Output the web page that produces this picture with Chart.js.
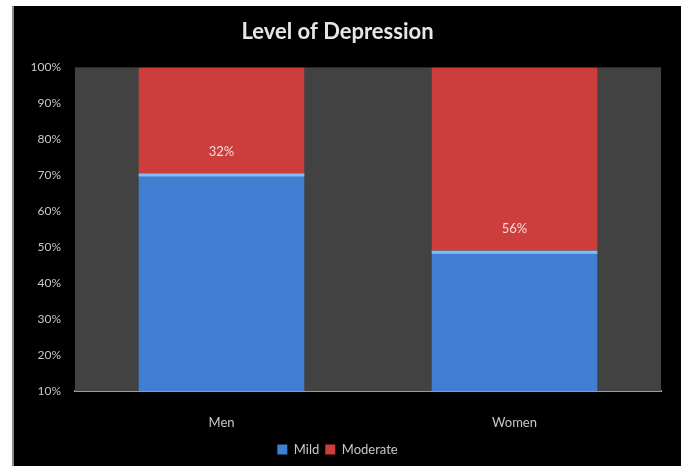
<!DOCTYPE html>
<html>
<head>
<meta charset="utf-8">
<script src="https://cdn.jsdelivr.net/npm/chart.js@4"></script>
<style>
  html, body { margin: 0; padding: 0; background: #fff; }
  #marco {
    position: absolute; left: 12px; top: 6px;
    width: 667px; height: 460px;
    background: #000; border-left: 2px solid #8a8a8a;
  }
  canvas { display: block; }
</style>
</head>
<body>
<div id="marco"><canvas id="grafico" width="667" height="460"></canvas></div>
<script>
// datos
const categorias = ['Men', 'Women'];
const leve = [70.5, 49];
const moderado = [29.5, 51];
const etiquetasModerado = ['32%', '56%'];
const ticksY = [10, 20, 30, 40, 50, 60, 70, 80, 90, 100];

Chart.defaults.font.family = "Lato, 'Open Sans', sans-serif";
Chart.defaults.color = '#c8c8c8';

// fondo gris del área de trazado
const fondoArea = {
    id: 'fondoArea',
    beforeDatasetsDraw(chart) {
        const { ctx, chartArea: a } = chart;
        ctx.save();
        ctx.fillStyle = '#424242';
        ctx.fillRect(a.left, a.top, a.right - a.left, a.bottom - a.top);
        ctx.restore();
    }
};

// brillo superior de las barras azules y etiquetas de "Moderate"
const extras = {
    id: 'extras',
    afterDatasetsDraw(chart) {
        const ctx = chart.ctx;
        ctx.save();
        chart.getDatasetMeta(0).data.forEach(bar => {
            const w = bar.width;
            ctx.fillStyle = '#7cc0f5';
            ctx.fillRect(bar.x - w / 2, bar.y, w, 3);
        });
        ctx.fillStyle = '#f2dcdc';
        ctx.font = "13px Lato, 'Open Sans', sans-serif";
        ctx.textAlign = 'center';
        ctx.textBaseline = 'middle';
        chart.getDatasetMeta(1).data.forEach((bar, i) => {
            ctx.fillText(etiquetasModerado[i], bar.x, bar.base - 22);
        });
        ctx.restore();
    }
};

new Chart(document.getElementById('grafico'), {
    type: 'bar',
    data: {
        labels: categorias,
        datasets: [
            { label: 'Mild', data: leve, backgroundColor: '#3f7ed0', borderWidth: 0,
              barPercentage: 0.565, categoryPercentage: 1 },
            { label: 'Moderate', data: moderado, backgroundColor: '#cd3d3b', borderWidth: 0,
              barPercentage: 0.565, categoryPercentage: 1 }
        ]
    },
    options: {
        responsive: false,
        animation: false,
        layout: { padding: { left: 0, right: 20, top: 0, bottom: 0 } },
        plugins: {
            title: {
                display: true,
                text: 'Level of Depression',
                color: '#e6e6e6',
                font: { size: 22, weight: 'bold' },
                padding: { top: 13, bottom: 22 }
            },
            legend: {
                position: 'bottom',
                labels: {
                    boxWidth: 10, boxHeight: 10, padding: 6,
                    color: '#c8c8c8', font: { size: 13 }
                }
            },
            tooltip: { enabled: false }
        },
        scales: {
            x: {
                stacked: true,
                afterFit: ax => { ax.height = 46; },
                grid: { display: false },
                border: { display: true, color: '#9a9a9a', width: 2 },
                ticks: { color: '#c8c8c8', font: { size: 13 }, padding: 16 }
            },
            y: {
                stacked: true,
                min: 10, max: 100,
                afterBuildTicks: ax => { ax.ticks = ticksY.map(v => ({ value: v })); },
                afterFit: ax => { ax.width = 61; },
                grid: { display: false },
                border: { display: false },
                ticks: {
                    color: '#c8c8c8', font: { size: 12 }, padding: 6,
                    callback: v => v + '%'
                }
            }
        }
    },
    plugins: [fondoArea, extras]
});
</script>
</body>
</html>
